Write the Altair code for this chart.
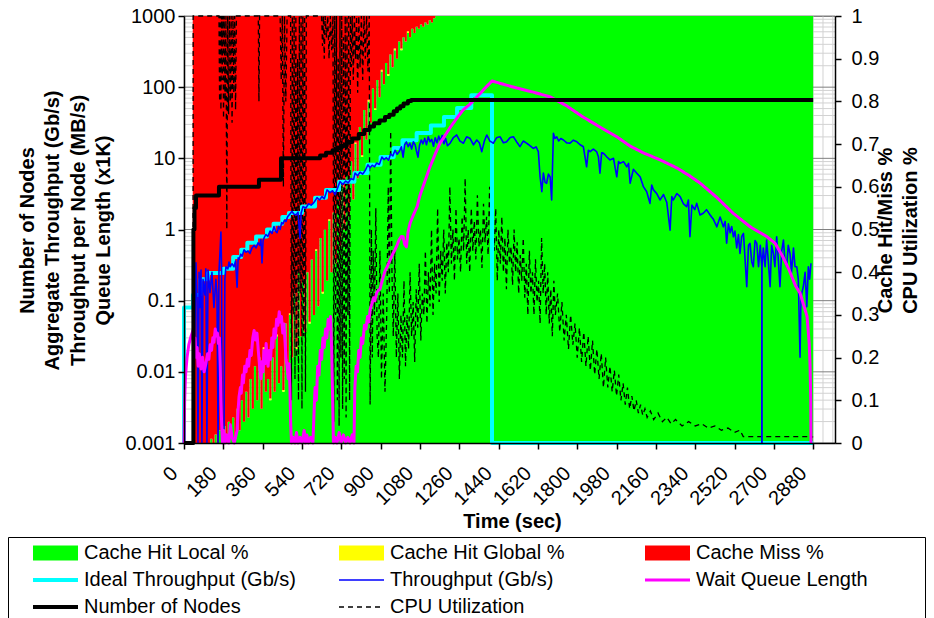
import altair as alt
import pandas as pd

FONT = "Liberation Sans"

AREA_SERIES = ["Cache Hit Local %", "Cache Hit Global %", "Cache Miss %"]
AREA_COLORS = ["#00ff00", "#ffff00", "#ff0000"]
LINE_SERIES = ["Ideal Throughput (Gb/s)", "Throughput (Gb/s)", "Wait Queue Length",
               "Number of Nodes", "CPU Utilization"]
LINE_COLORS = ["#00ffff", "#0000ff", "#ff00ff", "#000000", "#000000"]
LINE_WIDTHS = [4, 1.6, 3, 4, 1.3]
LINE_DASHES = [[1, 0], [1, 0], [1, 0], [1, 0], [5, 4]]

X_TICKS = [0, 180, 360, 540, 720, 900, 1080, 1260, 1440, 1620, 1800, 1980, 2160, 2340, 2520, 2700, 2880]
LEFT_TICKS = [0.001, 0.01, 0.1, 1, 10, 100, 1000]
RIGHT_TICKS = [0, 0.1, 0.2, 0.3, 0.4, 0.5, 0.6, 0.7, 0.8, 0.9, 1]

# ---------------- cache hit / miss fractions (right axis) ----------------
cache_t = list(range(40, 1160, 10)) + [2880]
cache_local = [
    0, 0, 0, 0, 0, 0, 0, 0, 0.01, 0,
    0.02, 0, 0.03, 0.01, 0.04, 0, 0.05, 0.02, 0.06, 0.01,
    0.08, 0.03, 0.1, 0.05, 0.12, 0.06, 0.15, 0.08, 0.18, 0.1,
    0.2, 0.08, 0.22, 0.12, 0.15, 0.1, 0.2, 0.12, 0.25, 0.14,
    0.18, 0.12, 0.28, 0.16, 0.3, 0.2, 0.35, 0.22, 0.4, 0.25,
    0.38, 0.26, 0.4, 0.28, 0.43, 0.3, 0.45, 0.32, 0.48, 0.35,
    0.5, 0.38, 0.52, 0.4, 0.54, 0.42, 0.57, 0.46, 0.6, 0.5,
    0.63, 0.53, 0.66, 0.57, 0.7, 0.62, 0.74, 0.67, 0.78, 0.71,
    0.8, 0.75, 0.83, 0.78, 0.85, 0.81, 0.87, 0.84, 0.89, 0.86,
    0.91, 0.88, 0.92, 0.9, 0.94, 0.92, 0.95, 0.94, 0.96, 0.95,
    0.97, 0.96, 0.975, 0.97, 0.98, 0.975, 0.985, 0.98, 0.99, 0.985, 0.995, 1.0,
    1.0]
cache_global = [
    0, 0, 0, 0, 0, 0, 0, 0, 0, 0,
    0, 0, 0, 0, 0, 0, 0, 0, 0, 0,
    0, 0, 0, 0, 0, 0, 0, 0, 0, 0,
    0, 0, 0.004, 0, 0, 0.004, 0, 0, 0.004, 0,
    0, 0.004, 0, 0, 0.004, 0, 0, 0.004, 0, 0,
    0.004, 0, 0, 0.004, 0, 0, 0.004, 0, 0, 0.004,
    0, 0, 0.004, 0, 0, 0.004, 0, 0, 0.004, 0,
    0, 0.004, 0, 0, 0.004, 0, 0, 0.004, 0, 0,
    0.004, 0, 0, 0.004, 0, 0, 0.004, 0, 0, 0.004,
    0, 0, 0.004, 0, 0, 0.004, 0, 0, 0.004, 0,
    0, 0, 0, 0, 0, 0, 0, 0, 0, 0, 0, 0,
    0]

# ---------------- CPU utilization (right axis) ----------------
cpu_t = [0, 41, 42, 160, 163, 166, 169, 172, 175, 178, 181, 184, 188, 192, 196, 200, 204, 208, 212, 216,
         220, 224, 228, 232, 236, 240, 340, 343, 346, 440, 445, 450, 455, 460, 466, 472, 488, 492, 496, 500,
         504, 508, 512, 516, 520, 524, 528, 532, 536, 540, 544, 548, 552, 556, 560, 630, 634, 638, 642, 646,
         652, 658, 664, 670, 676, 682, 686, 690, 694, 698, 702, 706, 710, 714, 718, 722, 726, 730, 734, 738,
         742, 746, 750, 754, 758, 762, 766, 770, 775, 780, 785, 790, 795, 800, 806, 812, 818, 824, 830, 836,
         842, 848, 852, 858, 862, 866, 872, 878, 884, 890, 897, 904, 912, 920, 928, 935, 940, 946, 952, 958,
         965, 972, 979, 986, 993, 1000, 1007, 1014, 1021, 1028, 1035, 1042, 1049, 1056, 1063, 1070, 1077, 1084, 1091, 1098,
         1105, 1112, 1119, 1126, 1133, 1140, 1147, 1154, 1161, 1168, 1175, 1182, 1189, 1196, 1203, 1210, 1217, 1224, 1231, 1238,
         1245, 1252, 1259, 1266, 1273, 1280, 1287, 1294, 1301, 1308, 1315, 1322, 1329, 1336, 1343, 1350, 1357, 1364, 1371, 1378,
         1385, 1392, 1399, 1406, 1413, 1420, 1427, 1434, 1441, 1448, 1455, 1462, 1469, 1476, 1483, 1490, 1497, 1504, 1511, 1518,
         1525, 1532, 1539, 1546, 1553, 1560, 1567, 1574, 1581, 1588, 1595, 1602, 1609, 1616, 1623, 1630, 1637, 1644, 1651, 1658,
         1665, 1672, 1679, 1686, 1693, 1700, 1710, 1720, 1730, 1740, 1750, 1760, 1770, 1780, 1790, 1800, 1810, 1820, 1830, 1840,
         1850, 1860, 1870, 1880, 1890, 1900, 1910, 1920, 1930, 1940, 1950, 1960, 1970, 1980, 1990, 2000, 2010, 2020, 2030, 2040,
         2050, 2060, 2070, 2080, 2090, 2100, 2110, 2120, 2135, 2150, 2170, 2190, 2210, 2230, 2250, 2280, 2310, 2340, 2370, 2400,
         2430, 2460, 2490, 2520, 2545, 2560, 2870, 2880]
cpu_v = [0, 0, 1, 1, 0.8, 1, 0.78, 1, 0.85, 1, 0.76, 1, 0.8, 1, 0.5, 1, 0.77, 1, 0.8, 1,
         0.75, 1, 0.82, 1, 0.78, 1, 1, 0.8, 1, 1, 0.85, 1, 0.6, 1, 0.8, 1, 1, 0.1, 1, 0.3,
         1, 0.15, 1, 0.2, 0.9, 0.1, 1, 0.35, 1, 0.08, 1, 0.25, 1, 0.12, 1, 1, 0.93, 1, 0.9, 1,
         0.95, 1, 0.9, 1, 0.92, 1, 0.05, 1, 0.3, 1, 0.1, 0.9, 0.04, 1, 0.2, 1, 0.08, 0.95, 0.15, 1,
         0.06, 1, 0.3, 1, 0.1, 1, 0.88, 1, 0.85, 1, 0.9, 1, 0.82, 1, 0.88, 1, 0.85, 1, 0.9, 1,
         0.87, 1, 0.09, 0.5, 0.2, 0.45, 0.3, 0.55, 0.25, 0.2, 0.45, 0.15, 0.35, 0.12, 0.3, 0.6, 0.35, 0.73, 0.4, 0.25,
         0.45, 0.2, 0.35, 0.15, 0.3, 0.2, 0.38, 0.18, 0.3, 0.22, 0.4, 0.25, 0.33, 0.19, 0.36, 0.27, 0.42, 0.24, 0.35, 0.3,
         0.45, 0.28, 0.4, 0.32, 0.5, 0.3, 0.42, 0.35, 0.55, 0.33, 0.45, 0.38, 0.5, 0.35, 0.47, 0.4, 0.6, 0.42, 0.5, 0.38,
         0.55, 0.43, 0.48, 0.4, 0.53, 0.45, 0.62, 0.42, 0.5, 0.4, 0.55, 0.45, 0.52, 0.43, 0.58, 0.46, 0.5, 0.41, 0.56, 0.47,
         0.53, 0.44, 0.6, 0.47, 0.52, 0.45, 0.55, 0.38, 0.5, 0.42, 0.53, 0.4, 0.48, 0.36, 0.5, 0.42, 0.46, 0.37, 0.5, 0.4,
         0.47, 0.35, 0.44, 0.38, 0.48, 0.34, 0.42, 0.3, 0.45, 0.35, 0.4, 0.3, 0.43, 0.33, 0.38, 0.28, 0.48, 0.35, 0.42, 0.3,
         0.4, 0.28, 0.36, 0.25, 0.38, 0.3, 0.35, 0.26, 0.33, 0.24, 0.3, 0.22, 0.3, 0.23, 0.28, 0.2, 0.27, 0.19, 0.26, 0.18,
         0.25, 0.17, 0.24, 0.16, 0.22, 0.15, 0.21, 0.13, 0.2, 0.13, 0.18, 0.12, 0.17, 0.11, 0.16, 0.1, 0.14, 0.09, 0.13, 0.08,
         0.11, 0.075, 0.1, 0.07, 0.09, 0.065, 0.08, 0.06, 0.075, 0.055, 0.07, 0.05, 0.06, 0.045, 0.055, 0.04, 0.05, 0.04, 0.045, 0.035,
         0.04, 0.03, 0.035, 0.025, 0.03, 0.015, 0.015, 0.014]

# ---------------- Number of nodes (left axis) ----------------
nodes_t = [0, 43, 48, 55, 160, 343, 444, 623, 650, 680, 700, 720, 745, 770, 800, 825, 850, 870, 895, 920,
           940, 960, 975, 990, 1005, 1025, 1040, 2880]
nodes_v = [0.001, 1, 2, 3, 4, 5, 10, 11, 12, 13, 14, 15, 17, 19, 22, 25, 28, 31, 34, 38,
           41, 46, 50, 54, 59, 64, 66, 66]

# ---------------- Ideal throughput (left axis) ----------------
ideal_t = [0, 0, 41, 75, 110, 180, 225, 262, 290, 330, 380, 410, 450, 480, 540, 600, 650, 710, 780, 840,
           900, 960, 1000, 1065, 1130, 1190, 1250, 1315, 1410, 2880]
ideal_v = [0.001, 0.08, 0.12, 0.2, 0.245, 0.28, 0.41, 0.52, 0.65, 0.8, 1.0, 1.2, 1.5, 1.7, 2.1, 2.8, 3.6, 4.7, 6.2, 8.1,
           10.4, 14, 18, 22.7, 29, 38, 51, 77, 0.001, 0.001]

# ---------------- Throughput (left axis) ----------------
thr_t = [41, 55, 60, 64, 69, 73, 78, 82, 87, 96, 100, 105, 110, 119, 128, 137, 146, 151, 156, 160,
         165, 169, 172, 174, 183, 187, 192, 201, 206, 211, 220, 229, 236, 243, 248, 252, 260, 266, 275, 284,
         293, 302, 311, 321, 330, 339, 347, 352, 357, 362, 368, 375, 384, 394, 403, 412, 419, 426, 433, 440,
         447, 453, 460, 467, 474, 481, 488, 494, 503, 513, 522, 531, 536, 545, 558, 570, 582, 595, 609, 620,
         632, 642, 655, 668, 680, 692, 704, 714, 727, 740, 752, 764, 776, 783, 795, 806, 818, 830, 842, 852,
         862, 872, 882, 894, 906, 916, 926, 936, 946, 956, 966, 976, 986, 995, 1003, 1010, 1018, 1026, 1034, 1042,
         1050, 1058, 1066, 1071, 1078, 1086, 1094, 1102, 1110, 1118, 1126, 1134, 1142, 1150, 1158, 1166, 1174, 1182, 1190, 1198,
         1206, 1218, 1233, 1248, 1263, 1279, 1294, 1309, 1325, 1340, 1352, 1363, 1375, 1386, 1400, 1416, 1431, 1447, 1462, 1477,
         1492, 1508, 1523, 1538, 1553, 1569, 1584, 1599, 1612, 1622, 1630, 1638, 1645, 1653, 1660, 1668, 1676, 1683, 1691, 1698,
         1706, 1715, 1725, 1737, 1752, 1767, 1782, 1798, 1813, 1828, 1843, 1851, 1859, 1874, 1889, 1897, 1904, 1912, 1920, 1935,
         1950, 1966, 1981, 1989, 1996, 2012, 2027, 2035, 2042, 2057, 2072, 2088, 2103, 2118, 2133, 2141, 2149, 2164, 2179, 2195,
         2210, 2225, 2233, 2240, 2256, 2271, 2286, 2301, 2309, 2316, 2325, 2338, 2347, 2362, 2377, 2392, 2408, 2423, 2439, 2454,
         2469, 2477, 2484, 2492, 2500, 2507, 2515, 2522, 2530, 2538, 2545, 2553, 2561, 2568, 2576, 2584, 2591, 2599, 2606, 2614,
         2622, 2630, 2638, 2645, 2645, 2646, 2646, 2652, 2660, 2667, 2675, 2683, 2690, 2698, 2705, 2713, 2720, 2728, 2736, 2744,
         2751, 2759, 2766, 2774, 2781, 2790, 2797, 2805, 2812, 2820, 2824, 2828, 2835, 2843, 2851, 2858, 2864, 2870]
thr_v = [0.001, 0.34, 0.1, 0.001, 0.25, 0.08, 0.27, 0.001, 0.2, 0.12, 0.28, 0.001, 0.27, 0.13, 0.25, 0.08, 0.2, 0.12, 0.001, 0.25,
         0.5, 0.92, 0.3, 0.001, 0.001, 0.2, 0.3, 0.28, 0.35, 0.3, 0.33, 0.3, 0.36, 0.155, 0.4, 0.38, 0.45, 0.42, 0.52, 0.48,
         0.5, 0.46, 0.55, 0.6, 0.55, 0.65, 0.6, 0.72, 0.34, 0.7, 0.78, 0.85, 0.8, 0.95, 0.88, 1.1, 0.95, 0.9, 1.1, 1.0,
         1.25, 1.2, 1.35, 1.3, 1.5, 1.6, 1.7, 1.8, 1.65, 1.6, 1.75, 0.75, 1.7, 2.1, 2.0, 2.3, 2.2, 2.4, 2.8, 2.6,
         2.9, 2.7, 3.6, 3.3, 3.5, 3.1, 3.9, 4.7, 4.3, 4.8, 4.5, 5.2, 5.0, 6.2, 5.7, 6.4, 6.0, 6.8, 8.1, 7.4,
         8.0, 7.6, 8.6, 8.2, 10.4, 9.6, 10.2, 9.4, 11.5, 10.8, 13, 11.4, 12.6, 14.5, 10.4, 15.5, 17, 14.6, 16.3, 13.5,
         17.1, 15.5, 12.0, 10.4, 15.2, 18.1, 16.0, 19.1, 15.5, 20.1, 17.1, 18.5, 14.8, 19.5, 16.5, 20.5, 17.5, 21.0, 16.0, 19.0,
         15.0, 16.3, 19.5, 21.3, 17.5, 16.3, 20.1, 19.1, 15.5, 18.1, 16.5, 12.4, 17.5, 21.3, 17.5, 16.3, 19.5, 20.1, 16.5, 17.1,
         19.5, 20.1, 17.0, 14.6, 17.5, 16.3, 15.0, 13.8, 14.5, 12.4, 5.5, 3.4, 6.2, 4.6, 4.46, 6.0, 5.5, 2.6, 22.5, 19.0,
         20.1, 17.5, 19.0, 18.1, 16.5, 16.3, 18.0, 17.1, 15.5, 14.6, 7.6, 13.0, 12.4, 13.5, 12.4, 10.5, 6.2, 12.0, 11.8, 10.5,
         9.5, 10.0, 5.5, 9.0, 8.5, 9.0, 7.6, 8.5, 4.46, 7.0, 6.2, 5.5, 4.0, 3.4, 2.33, 4.2, 3.6, 3.2, 2.6, 3.1,
         2.4, 0.98, 2.9, 2.6, 3.2, 2.9, 2.3, 2.09, 2.6, 0.79, 2.2, 1.9, 2.33, 1.6, 1.69, 1.9, 1.6, 1.4, 1.09, 1.5,
         1.09, 1.3, 0.64, 1.2, 0.9, 1.1, 0.79, 0.95, 0.55, 0.85, 0.46, 0.8, 0.88, 0.4, 0.157, 0.6, 0.64, 0.35, 0.3, 0.7,
         0.64, 0.3, 0.6, 0.3, 0.001, 0.001, 0.3, 0.55, 0.3, 0.71, 0.35, 0.157, 0.6, 0.46, 0.3, 0.79, 0.4, 0.157, 0.5, 0.71,
         0.35, 0.3, 0.6, 0.46, 0.25, 0.55, 0.3, 0.3, 0.2, 0.016, 0.1, 0.127, 0.157, 0.25, 0.082, 0.3, 0.2, 0.335]

# ---------------- Wait queue length (left axis) ----------------
queue_t = [0, 3, 7, 14, 22, 30, 37, 41, 45, 50, 55, 60, 65, 70, 78, 85, 92, 100, 108, 114,
           120, 126, 132, 137, 143, 148, 153, 158, 162, 166, 169, 172, 176, 182, 188, 195, 205, 212, 220, 230,
           243, 248, 252, 258, 262, 268, 272, 278, 284, 290, 296, 302, 308, 315, 321, 327, 334, 340, 346, 352,
           358, 362, 366, 371, 376, 380, 385, 390, 396, 402, 407, 412, 418, 424, 430, 436, 441, 446, 452, 458,
           463, 467, 472, 477, 481, 485, 488, 492, 500, 508, 515, 522, 531, 540, 550, 556, 562, 570, 580, 590,
           596, 600, 606, 612, 618, 624, 630, 636, 642, 648, 654, 660, 666, 671, 676, 680, 684, 692, 700, 710,
           720, 730, 740, 750, 760, 770, 778, 782, 788, 794, 800, 806, 812, 818, 826, 833, 840, 846, 852, 860,
           868, 874, 882, 890, 897, 905, 913, 920, 930, 943, 955, 966, 975, 985, 995, 1003, 1010, 1018, 1025, 1035,
           1050, 1067, 1080, 1094, 1110, 1126, 1150, 1172, 1195, 1218, 1250, 1277, 1310, 1341, 1375, 1410, 1470, 1525, 1600, 1676,
           1750, 1827, 1900, 1982, 2040, 2101, 2180, 2257, 2310, 2362, 2440, 2513, 2590, 2669, 2706, 2742, 2770, 2800, 2820, 2840,
           2852, 2862, 2866, 2869, 2870]
queue_v = [0.001, 0.004, 0.009, 0.016, 0.024, 0.03, 0.035, 0.038, 0.02, 0.03, 0.016, 0.022, 0.012, 0.018, 0.011, 0.016, 0.01, 0.013, 0.018, 0.015,
           0.024, 0.02, 0.03, 0.026, 0.04, 0.032, 0.035, 0.025, 0.03, 0.012, 0.004, 0.002, 0.001, 0.0015, 0.001, 0.0013, 0.001, 0.0018, 0.0012, 0.001,
           0.0015, 0.003, 0.0045, 0.006, 0.005, 0.009, 0.007, 0.012, 0.01, 0.015, 0.012, 0.02, 0.017, 0.03, 0.038, 0.028, 0.035, 0.02, 0.012, 0.008,
           0.014, 0.01, 0.02, 0.013, 0.025, 0.016, 0.012, 0.02, 0.015, 0.03, 0.022, 0.04, 0.03, 0.055, 0.045, 0.07, 0.05, 0.06, 0.035, 0.047,
           0.025, 0.015, 0.012, 0.008, 0.013, 0.006, 0.002, 0.001, 0.0012, 0.001, 0.0014, 0.001, 0.0012, 0.001, 0.0015, 0.001, 0.0013, 0.001, 0.0012, 0.001,
           0.003, 0.006, 0.004, 0.012, 0.009, 0.02, 0.015, 0.03, 0.022, 0.04, 0.03, 0.055, 0.04, 0.06, 0.02, 0.005, 0.001, 0.0012, 0.001, 0.0014,
           0.001, 0.0013, 0.001, 0.0012, 0.001, 0.0013, 0.001, 0.006, 0.012, 0.01, 0.02, 0.016, 0.03, 0.025, 0.045, 0.04, 0.06, 0.05, 0.075, 0.09,
           0.11, 0.1, 0.13, 0.14, 0.145, 0.18, 0.22, 0.26, 0.3, 0.37, 0.45, 0.52, 0.6, 0.72, 0.8, 0.79, 0.62, 0.57, 0.9, 1.23,
           1.6, 2.1, 3.0, 4.0, 5.5, 7.6, 11.5, 16.3, 21, 27, 37, 47.6, 58, 73, 95, 122, 108, 97, 85, 73,
           55, 38, 28, 20, 15, 12, 9.5, 7.3, 5.8, 4.5, 2.8, 1.7, 1.1, 0.79, 0.64, 0.41, 0.27, 0.16, 0.128, 0.08,
           0.06, 0.025, 0.012, 0.004, 0.001]

# ---------------- build frames ----------------
cache_df = pd.DataFrame(
    [{"t": t, "value": l, "series": AREA_SERIES[0], "k": 0} for t, l in zip(cache_t, cache_local)]
    + [{"t": t, "value": g, "series": AREA_SERIES[1], "k": 1} for t, g in zip(cache_t, cache_global)]
    + [{"t": t, "value": round(1 - l - g, 4), "series": AREA_SERIES[2], "k": 2}
       for t, l, g in zip(cache_t, cache_local, cache_global)]
)


def line_df(name, ts, vs):
    return pd.DataFrame({"t": ts, "v": vs, "series": name, "i": list(range(len(ts)))})


cpu_df = line_df(LINE_SERIES[4], cpu_t, cpu_v)
nodes_df = line_df(LINE_SERIES[3], nodes_t, nodes_v)
ideal_df = line_df(LINE_SERIES[0], ideal_t, ideal_v)
thr_df = line_df(LINE_SERIES[1], thr_t, thr_v)
queue_df = line_df(LINE_SERIES[2], queue_t, queue_v)

# ---------------- legends ----------------
LEG_COMMON = dict(title=None, orient="none", direction="horizontal", columns=3, gridAlign="all",
                  rowPadding=7, padding=0, symbolSize=25, labelOffset=38.5, labelFont=FONT,
                  labelFontSize=20, labelColor="black", labelLimit=400, legendX=-158.5)
LEG_AREA = alt.Legend(legendY=527, columnPadding=72, symbolType="M-1,-3H17V3H-1Z",
                      symbolStrokeWidth=0, **LEG_COMMON)
LEG_LINE = alt.Legend(legendY=554, columnPadding=35, symbolType="M-1,0H17", **LEG_COMMON)

# ---------------- shared encodings ----------------
x_scale = alt.Scale(domain=[0, 2980], nice=False, zero=False)
x_axis = alt.Axis(values=X_TICKS, format="d", title="Time (sec)", labelAngle=315, labelAlign="right",
                  labelBaseline="middle", labelPadding=21, labelOffset=-10, tickSize=6,
                  titleFontWeight="bold", titleX=328, titleY=78, titleAlign="center",
                  titleBaseline="middle", zindex=1)
X = alt.X("t:Q", scale=x_scale, axis=x_axis)

left_scale = alt.Scale(type="log", domain=[0.001, 1000], nice=False)
left_axis = alt.Axis(orient="left", values=LEFT_TICKS, format=".3~f", tickSize=6, labelPadding=3,
                     title=["Number of Nodes", "Aggregate Throughput (Gb/s)",
                            "Throughput per Node (MB/s)", "Queue Length (x1K)"],
                     titleFontWeight="bold", titleAngle=270, titleX=-157, titleY=214,
                     titleAlign="center", titleBaseline="middle", titleLineHeight=25.5, zindex=1)
right_scale = alt.Scale(domain=[0, 1], nice=False, zero=True)
right_axis = alt.Axis(orient="right", values=RIGHT_TICKS, format=".1~f", tickSize=6, labelPadding=10,
                      title=["Cache Hit/Miss %", "CPU Utilization %"], titleFontWeight="bold",
                      titleAngle=270, titleX=50, titleY=214, titleAlign="center",
                      titleBaseline="middle", titleLineHeight=25, zindex=1)

fill_enc = alt.Fill("series:N", scale=alt.Scale(domain=AREA_SERIES, range=AREA_COLORS), legend=LEG_AREA)
stroke_enc = alt.Stroke("series:N", scale=alt.Scale(domain=LINE_SERIES, range=LINE_COLORS), legend=LEG_LINE)
sw_enc = alt.StrokeWidth("series:N", scale=alt.Scale(type="ordinal", domain=LINE_SERIES, range=LINE_WIDTHS),
                         legend=LEG_LINE)
dash_enc = alt.StrokeDash("series:N", scale=alt.Scale(domain=LINE_SERIES, range=LINE_DASHES), legend=LEG_LINE)

# ---------------- gridlines + legend frame (behind everything) ----------------
minor_vals = [k * 10 ** e for e in range(-3, 3) for k in range(2, 10)]
vgrid_vals = list(range(0, 2981, 45))
grid_scale = alt.Scale(type="log", domain=[0.001, 1000], nice=False)

g_minor = alt.Chart(pd.DataFrame({"g": minor_vals})).mark_rule(color="#d2d2d2", strokeWidth=1).encode(
    y=alt.Y("g:Q", scale=grid_scale, axis=None))
g_major = alt.Chart(pd.DataFrame({"g": LEFT_TICKS})).mark_rule(color="#7f7f7f", strokeWidth=1).encode(
    y=alt.Y("g:Q", scale=grid_scale, axis=None))
g_vert = alt.Chart(pd.DataFrame({"t": vgrid_vals})).mark_rule(color="#d2d2d2", strokeWidth=1).encode(x=X)
legend_frame = alt.Chart(pd.DataFrame({"f": [0]})).mark_rect(
    filled=False, stroke="black", strokeWidth=1).encode(
    x=alt.value(-175.5), x2=alt.value(741.5), y=alt.value(521.5), y2=alt.value(640))
grid_group = alt.layer(g_minor, g_vert, g_major, legend_frame)

# ---------------- right-axis group ----------------
areas = alt.Chart(cache_df).mark_area(interpolate="step-after").encode(
    x=X,
    y=alt.Y("value:Q", stack="zero", scale=right_scale, axis=right_axis),
    fill=fill_enc,
    order=alt.Order("k:Q"),
)
cpu = alt.Chart(cpu_df).mark_line(strokeJoin="miter").encode(
    x=X, y=alt.Y("v:Q", scale=right_scale, axis=right_axis),
    stroke=stroke_enc, strokeWidth=sw_enc, strokeDash=dash_enc, order=alt.Order("i:Q"))
right_group = alt.layer(areas, cpu)


# ---------------- left-axis group ----------------
def left_line(df, interp):
    return alt.Chart(df).mark_line(interpolate=interp, strokeJoin="round").encode(
        x=X, y=alt.Y("v:Q", scale=left_scale, axis=left_axis),
        stroke=stroke_enc, strokeWidth=sw_enc, strokeDash=dash_enc, order=alt.Order("i:Q"))


left_group = alt.layer(
    left_line(ideal_df, "step-after"),
    left_line(thr_df, "linear"),
    left_line(queue_df, "linear"),
    left_line(nodes_df, "step-after"),
)

chart = alt.layer(grid_group, right_group, left_group).resolve_scale(y="independent").properties(
    width=651, height=427,
    autosize=alt.AutoSizeParams(type="none"),
    padding={"left": 176, "top": 8, "right": 91, "bottom": 175},
    background="white",
).configure_view(stroke="#808080", strokeWidth=1).configure_axis(
    labelFont=FONT, titleFont=FONT, labelFontSize=20, titleFontSize=20,
    labelColor="black", titleColor="black", domainColor="black", tickColor="black",
    grid=False, labelFlush=False, labelOverlap=False, domainWidth=1.5, tickWidth=1.5)

chart.save("out.html", embed_options={"renderer": "svg", "actions": False})
